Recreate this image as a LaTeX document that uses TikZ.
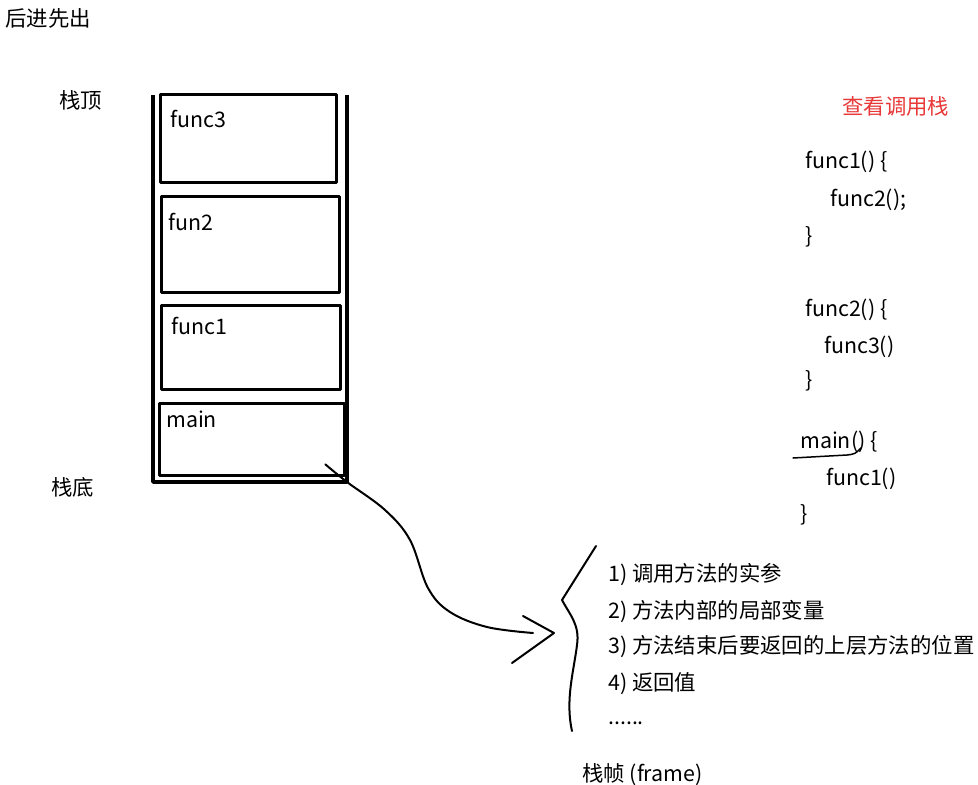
\documentclass[tikz,border=0pt]{standalone}
\usepackage{fontspec}
\setmainfont{Noto Sans CJK SC}
\usetikzlibrary{positioning}
\definecolor{notered}{RGB}{232,56,56}
\tikzset{
  stackbox/.style={draw,line width=3.4pt,anchor=north west,inner sep=0pt},
  txt/.style={anchor=west,inner sep=0pt,font=\fontsize{21.4}{25}\selectfont},
  pen/.style={line width=2pt}
}
\begin{document}
\begin{tikzpicture}[x=1pt,y=-1pt,line cap=round,line join=round]
  \useasboundingbox[fill=white] (0,0) rectangle (978,785);
  \node[txt] (title) at (5,18) {后进先出};
  % stack
  \draw[line width=3.4pt,line cap=butt] (153,95) -- (153,482) -- (347,482) -- (347,95);
  \node[stackbox,minimum width=176pt,minimum height=88pt] (func3) at (159,93) {};
  \node[stackbox,minimum width=178pt,minimum height=96pt] (fun2) at (160,195) {};
  \node[stackbox,minimum width=179pt,minimum height=84pt] (func1) at (160,304) {};
  \node[stackbox,minimum width=185pt,minimum height=72pt] (main) at (158,402) {};
  \node[txt] (func3lbl) at (170,119) {func3};
  \node[txt] (fun2lbl) at (168,222) {fun2};
  \node[txt] (func1lbl) at (171,326) {func1};
  \node[txt] (mainlbl) at (166,419) {main};
  \node[txt] (top) at (59,100) {栈顶};
  \node[txt] (bottom) at (51,487) {栈底};
  % code
  \node[txt,text=notered] (callstack) at (842,106) {查看调用栈};
  \node[txt] (c1) at (805,162) {func1() \{};
  \node[txt] (c2) at (830,200) {func2();};
  \node[txt] (c3) at (805,237) {\}};
  \node[txt] (c4) at (805,310) {func2() \{};
  \node[txt] (c5) at (824,347) {func3()};
  \node[txt] (c6) at (805,381) {\}};
  \node[txt] (c7) at (800,442) {main() \{};
  \node[txt] (c8) at (826,479) {func1()};
  \node[txt] (c9) at (800,515) {\}};
  \draw[line width=1.5pt] (793,458) -- (847,455) .. controls (855,454) .. (861,448);
  % frame
  \node[txt] (i1) at (608,575) {1) 调用方法的实参};
  \node[txt] (i2) at (608,612) {2) 方法内部的局部变量};
  \node[txt] (i3) at (608,647) {3) 方法结束后要返回的上层方法的位置};
  \node[txt] (i4) at (608,684) {4) 返回值};
  \node[txt,anchor=base west] (dots) at (608,724) {......};
  \node[txt] (frame) at (582,775) {栈帧 (frame)};
  \draw[pen] (596,546) -- (562,600) .. controls (570,615) and (580,625) .. (577,645)
    .. controls (574,670) and (565,700) .. (572,731);
  % connector
  \coordinate (start) at ([xshift=-21pt,yshift=13pt]main.south east);
  \coordinate (tip) at (554,633);
  \draw[pen] plot[smooth,tension=0.6] coordinates {(start) (347,482) (385,510) (410,540)
    (428,588) (450,612) (487,627) ([xshift=-21pt]tip)};
  \draw[pen] ([shift={(-31,-17)}]tip) -- (tip) -- ([shift={(-42,30)}]tip);
\end{tikzpicture}
\end{document}
